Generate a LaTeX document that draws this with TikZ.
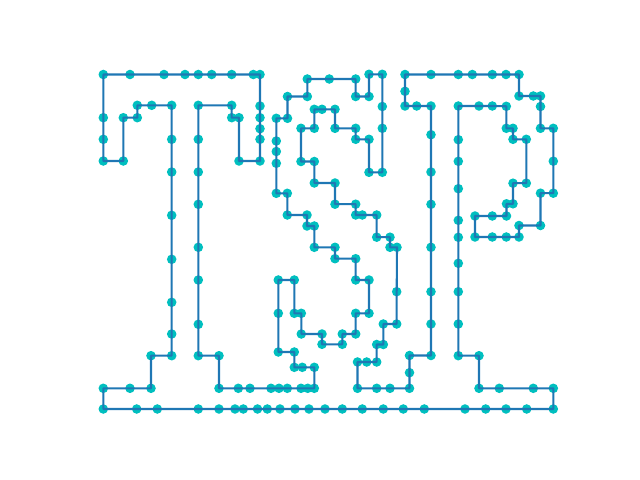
\documentclass[tikz,border=0pt]{standalone}
\usepackage{xcolor}
\usepackage{tikz}

\definecolor{tourblue}{HTML}{1F77B4}
\definecolor{citycyan}{HTML}{00BFBF}

\begin{document}
\begin{tikzpicture}[
    x=0.025cm, y=-0.025cm,
    city/.style={fill=citycyan},
    tour/.style={draw=tourblue, line width=1.48pt, line join=round}
]
\useasboundingbox (0,0) rectangle (640,480);

% cities, in tour order (pixel coordinates)
\foreach \px/\py [count=\i] in {
  103.3/74.5, 130/74.5, 164/74.5, 185/74.5, 198.3/74.5, 211.7/74.5, 231.7/74.5, 253.3/74.5,
  260/74.5, 260/106, 260/117.7, 260/128.7, 260/139.3, 260/161, 239/161, 239/117.7,
  231.7/117.7, 231.7/105.3, 198.3/105.3, 198.3/139.3, 198.3/172, 198.3/204.3, 198.3/247.3, 198.3/280,
  198.3/324.3, 198.3/355.7, 219/355.7, 219/388.3, 238.3/388.3, 250/388.3, 271/388.3, 279/388.3,
  287.3/388.3, 301/388.3, 307.7/388.3, 314.3/388.3, 314.3/367.3, 302.3/367.3, 294.3/367.3, 294.3/352,
  278.3/352, 278.3/313.3, 278.3/280, 294.3/280, 294.3/313.3, 301.3/313.3, 301.3/334, 322/334,
  322/344.3, 342.3/344.3, 342.3/334, 355.7/334, 355.7/313.3, 369/313.3, 369/280, 355.7/280,
  355.7/258.7, 335/258.7, 335/247.3, 314.3/247.3, 314.3/226, 307/226, 307/215, 287.3/215,
  287.3/193.3, 276.3/193.3, 276.3/163.3, 276.3/151.5, 276.3/141, 276.3/118.3, 287.5/118.3, 287.5/96.5,
  307.3/96.5, 307.3/79, 329.3/79, 355.7/79, 355.7/96.5, 369/96.5, 369/74.3, 382.3/74.3,
  382.3/106.5, 382.3/128.3, 382.3/172.3, 369/172.3, 369/139.3, 355.7/139.3, 355.7/128.3, 335/128.3,
  335/109.3, 322/109.3, 314.3/109.3, 314.3/128.3, 301/128.3, 301/161.5, 314.3/161.5, 314.3/183,
  335/183, 335/204.2, 355.7/204.2, 355.7/215, 362.3/215, 376.7/215, 376.7/237.2, 390/237.2,
  390/247.3, 397/247.3, 396.7/291.7, 396.7/324, 383.3/324, 383.3/344.5, 376.7/344.5, 376.7/362,
  366.7/362, 357.5/362, 357.5/388.3, 376.7/388.3, 390/388.3, 409.5/388.3, 409.5/372.7, 409.5/355.5,
  431/355.5, 431/324, 431/291.7, 431/247.3, 431/204.3, 431/172, 431/134.7, 431/106,
  416.7/106, 405/106, 405/91.3, 405/74.5, 431/74.5, 458.3/74.5, 472.3/74.5, 492.3/74.5,
  506/74.5, 519/74.5, 519/96, 533.3/96, 540.5/96, 540.5/106.5, 540.5/128.3, 553.3/128.3,
  553.3/161.2, 553.3/193.2, 540.5/193.2, 540.5/225.5, 519/225.5, 519/237, 506.3/237, 492.3/237,
  475/237, 475/216, 492.3/216, 506.5/216, 506.5/203.8, 513/203.8, 513/183.2, 526.3/183.2,
  526.3/139.3, 513/139.3, 513/128.3, 506.3/128.3, 506.3/106.3, 492.3/106, 479/106, 458.3/106,
  458.3/139.7, 458.3/161.3, 458.3/188.7, 458.3/220.3, 458.3/237.3, 458.3/263.3, 458.3/291.7, 458.3/324,
  458.3/355.7, 479/355.7, 479/388.3, 499.3/388.3, 533.3/388.3, 553.3/388.3, 553.3/409, 526.7/409,
  506/409, 485.7/409, 465/409, 424.3/409, 403.3/409, 383.3/409, 362.3/409, 342.3/409,
  325/409, 309/409, 295/409, 280/409, 267.3/409, 257.5/409, 243.3/409, 235/409,
  219/409, 198.3/409, 157.3/409, 136.7/409, 103.3/409, 103.3/388.3, 130/388.3, 151/388.3,
  151/355.7, 171.7/355.7, 171.7/334, 171.7/302.3, 171.7/259.3, 171.7/215.3, 171.7/172, 171.7/139.3,
  171.7/105.3, 151.7/105.3, 137.3/105.3, 137.3/117.7, 123.3/117.7, 123.3/161, 103.3/161, 103.3/139.3,
  103.3/117.7}
  \coordinate (c\i) at (\px,\py);

\foreach \i in {1,...,225}
  \fill[city] (c\i) circle[radius=3.4pt];

% the tour
\draw[tour] (c1) \foreach \i in {2,...,225} {-- (c\i)} -- cycle;
\end{tikzpicture}
\end{document}
